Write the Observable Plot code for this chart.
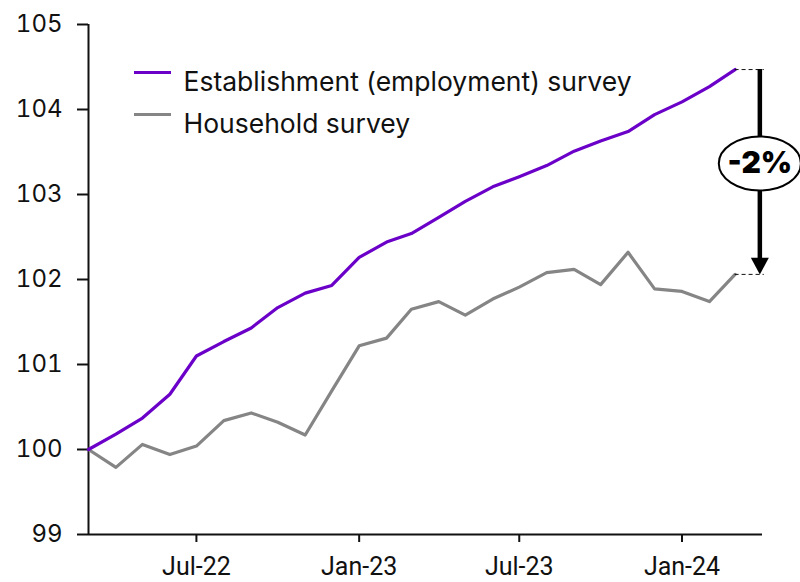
<!DOCTYPE html>
<html>
<head>
<meta charset="utf-8">
<script src="https://cdn.jsdelivr.net/npm/d3@7"></script>
<script src="https://cdn.jsdelivr.net/npm/@observablehq/plot@0.6"></script>
<style>
  html, body { margin: 0; padding: 0; background: #fff; }
  #chart { width: 800px; height: 582px; }
</style>
</head>
<body>
<div id="chart"></div>
<script>
// ---- Data ----
const months = ["2022-03","2022-04","2022-05","2022-06","2022-07","2022-08","2022-09","2022-10","2022-11","2022-12",
  "2023-01","2023-02","2023-03","2023-04","2023-05","2023-06","2023-07","2023-08","2023-09","2023-10","2023-11","2023-12",
  "2024-01","2024-02","2024-03"];
const establishment = [100, 100.18, 100.37, 100.65, 101.10, 101.27, 101.43, 101.67, 101.84, 101.93,
  102.26, 102.44, 102.54, 102.73, 102.92, 103.09, 103.21, 103.34, 103.51, 103.63, 103.74, 103.94,
  104.09, 104.27, 104.47];
const household = [100, 99.79, 100.06, 99.94, 100.04, 100.34, 100.43, 100.32, 100.17, 100.69,
  101.22, 101.31, 101.65, 101.74, 101.58, 101.77, 101.91, 102.08, 102.12, 101.94, 102.32, 101.89,
  101.86, 101.74, 102.06];
const seriesNames = ["Establishment (employment) survey", "Household survey"];
const seriesColors = ["#6B00C8", "#858585"];
const xTickLabels = ["2022-07", "2023-01", "2023-07", "2024-01"];
const yTicks = [99, 100, 101, 102, 103, 104, 105];
const xDomain = ["2022-03-01", "2024-04-01"];
const gapLabel = "-2%";
const gapArrowDate = "2024-03-29";
const gapDashEnd = "2024-04-03";

// ---- Build table ----
const parse = d3.utcParse("%Y-%m");
const rows = [];
months.forEach((m, i) => {
  rows.push({date: parse(m), value: household[i], series: seriesNames[1]});
});
months.forEach((m, i) => {
  rows.push({date: parse(m), value: establishment[i], series: seriesNames[0]});
});
const lastDate = parse(months[months.length - 1]);
const lastEst = establishment[establishment.length - 1];
const lastHouse = household[household.length - 1];
const arrowDate = new Date(gapArrowDate);
const dashEnd = new Date(gapDashEnd);
const dashes = [
  {x1: lastDate, x2: dashEnd, y: lastEst},
  {x1: lastDate, x2: dashEnd, y: lastHouse}
];
const gap = [{x: arrowDate, y1: lastEst, y2: lastHouse, mid: (lastEst + lastHouse) / 2, label: gapLabel}];

// custom symbols
const ellipseSymbol = {
  draw(ctx, size) {
    const r = Math.sqrt(size / Math.PI);
    const rx = r * 1.52, ry = r, k = 0.5523;
    ctx.moveTo(rx, 0);
    ctx.bezierCurveTo(rx, ry * k, rx * k, ry, 0, ry);
    ctx.bezierCurveTo(-rx * k, ry, -rx, ry * k, -rx, 0);
    ctx.bezierCurveTo(-rx, -ry * k, -rx * k, -ry, 0, -ry);
    ctx.bezierCurveTo(rx * k, -ry, rx, -ry * k, rx, 0);
    ctx.closePath();
  }
};
const headSymbol = {
  draw(ctx, size) {
    const s = Math.sqrt(size / Math.PI);
    ctx.moveTo(-s, -s * 1.85);
    ctx.lineTo(s, -s * 1.85);
    ctx.lineTo(0, 0);
    ctx.closePath();
  }
};
const hlineSymbol = {
  draw(ctx, size) {
    const s = Math.sqrt(size / Math.PI);
    ctx.moveTo(-s, 0);
    ctx.lineTo(s, 0);
  }
};

const chart = Plot.plot({
  width: 800,
  height: 582,
  marginLeft: 88,
  marginRight: 38,
  marginTop: 24,
  marginBottom: 48,
  style: {fontFamily: "Inter, sans-serif", color: "#111", background: "#fff"},
  x: {type: "utc", domain: xDomain.map(d => new Date(d))},
  y: {domain: [yTicks[0], yTicks[yTicks.length - 1]]},
  color: {domain: seriesNames, range: seriesColors},
  marks: [
    Plot.axisY({ticks: yTicks, tickSize: 11, tickPadding: 15, fontSize: 24, strokeWidth: 2, label: null, tickFormat: d3.format("d")}),
    Plot.axisX({ticks: xTickLabels.map(parse), tickSize: 8, tickPadding: 15, fontSize: 25, fontFamily: "Roboto", strokeWidth: 2, label: null, tickFormat: d3.utcFormat("%b-%y")}),
    Plot.ruleX([xDomain[0]].map(d => new Date(d)), {stroke: "#111", strokeWidth: 2}),
    Plot.ruleY([yTicks[0]], {stroke: "#111", strokeWidth: 2}),
    Plot.line(rows, {x: "date", y: "value", stroke: "series", z: "series", strokeWidth: 3.2}),
    Plot.ruleY(dashes, {x1: "x1", x2: "x2", y: "y", stroke: "#111", strokeWidth: 1, strokeDasharray: "4,3"}),
    Plot.ruleX(gap, {x: "x", y1: "y1", y2: "y2", stroke: "#000", strokeWidth: 4.5, insetBottom: 12}),
    Plot.dot(gap, {x: "x", y: "y2", symbol: headSymbol, r: 9, fill: "#000", stroke: "none"}),
    Plot.dot(gap, {x: "x", y: "mid", symbol: ellipseSymbol, r: 27, fill: "#fff", stroke: "#000", strokeWidth: 2, dy: -8.5}),
    Plot.text(gap, {x: "x", y: "mid", text: "label", fontSize: 30, fontWeight: 900, fill: "#000", dy: -8.5}),
    // legend
    Plot.dot([seriesNames[0]], {frameAnchor: "top-left", dx: 64, dy: 48, symbol: hlineSymbol, r: 18.5, stroke: seriesColors[0], strokeWidth: 3.2}),
    Plot.text([seriesNames[0]], {frameAnchor: "top-left", dx: 95, dy: 48, text: d => d, textAnchor: "start", fontSize: 26.5, fill: "#111"}),
    Plot.dot([seriesNames[1]], {frameAnchor: "top-left", dx: 64, dy: 90, symbol: hlineSymbol, r: 18.5, stroke: seriesColors[1], strokeWidth: 3.2}),
    Plot.text([seriesNames[1]], {frameAnchor: "top-left", dx: 95, dy: 90, text: d => d, textAnchor: "start", fontSize: 26.5, fill: "#111"})
  ]
});
document.getElementById("chart").appendChild(chart);
</script>
</body>
</html>
